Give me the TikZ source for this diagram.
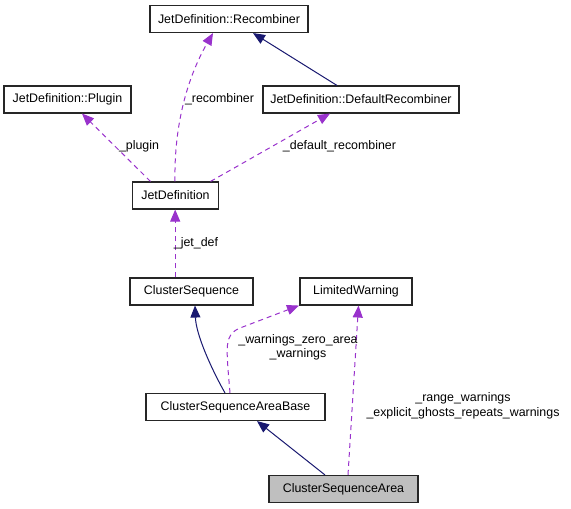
\documentclass[tikz,border=0pt]{standalone}
\usepackage{fontspec}
\setmainfont{Liberation Sans}
\usepackage{xcolor}
\definecolor{dxnavy}{RGB}{25,25,112}
\definecolor{dxorchid}{RGB}{153,50,204}
\definecolor{dxgray}{RGB}{191,191,191}
\usetikzlibrary{arrows.meta}

\begin{document}
\begin{tikzpicture}[->,>={Triangle[length=12pt,width=10pt]},x=1pt,y=-1pt,line width=1pt,font=\fontsize{12.4}{14.5}\selectfont]
              \tikzstyle{cls}=[draw=black!85,line width=1.1pt,fill=white,minimum height=27pt,inner sep=0pt]
              \tikzstyle{ih}=[color=dxnavy]
              \tikzstyle{us}=[color=dxorchid,dash pattern=on 5pt off 4pt]
              \tikzstyle{lbl}=[align=center,inner sep=0pt,text=black]

              \useasboundingbox (0,0) rectangle (571,509);

              \node[cls,minimum width=158pt]        (rec)    at (229,19)    {JetDefinition::Recombiner};
              \node[cls,minimum width=127pt]        (plugin) at (67.5,99.5) {JetDefinition::Plugin};
              \node[cls,minimum width=196pt]        (defrec) at (361,99.5)  {JetDefinition::DefaultRecombiner};
              \node[cls,minimum width=86pt]         (jetdef) at (175.5,195.5) {JetDefinition};
              \node[cls,minimum width=123pt]        (cs)     at (191.5,291.5) {ClusterSequence};
              \node[cls,minimum width=112pt]        (lw)     at (356,291.5) {LimitedWarning};
              \node[cls,minimum width=179pt]        (csab)   at (235.5,407) {ClusterSequenceAreaBase};
              \node[cls,minimum width=149pt,fill=dxgray] (csa) at (343.5,489) {ClusterSequenceArea};

              \path ([xshift=-24pt]defrec.north) edge [ih] ([xshift=24pt]rec.south)
                    ([xshift=-25pt]jetdef.north) edge [us] ([xshift=14.5pt]plugin.south)
                    ([xshift=35pt]jetdef.north)  edge [us] ([xshift=-31pt]defrec.south)
                    ([xshift=-18.5pt]csa.north)  edge [ih] ([xshift=21.5pt]csab.south)
                    ([xshift=4.5pt]csa.north)    edge [us] ([xshift=2.5pt]lw.south);
              \draw[us] ([xshift=-16.3pt]cs.north) -- ([xshift=-0.3pt]jetdef.south);
              \draw[us] ([xshift=-0.5pt]jetdef.north) .. controls (174,128) and (186,80) .. ([xshift=-16pt]rec.south);
              \draw[ih] ([xshift=-10.5pt]csab.north) .. controls (212,370) and (196,335) .. ([xshift=3.5pt]cs.south);
              \draw[us] ([xshift=-5.5pt]csab.north) .. controls (226,345) and (224,335) .. (240,328) -- ([xshift=-57pt]lw.south);

              \node[lbl] (lrec)  at (219.5,99) {\_recombiner};
              \node[lbl] (lplug) at (139,146)  {\_plugin};
              \node[lbl] (ldef)  at (339.5,146) {\_default\_recombiner};
              \node[lbl] (ljet)  at (196,243)  {\_jet\_def};
              \node[lbl] (lwarn) at (298,347.5) {\_warnings\_zero\_area\\\_warnings};
              \node[lbl] (lrng)  at (463,406)  {\_range\_warnings\\\_explicit\_ghosts\_repeats\_warnings};
\end{tikzpicture}
\end{document}
